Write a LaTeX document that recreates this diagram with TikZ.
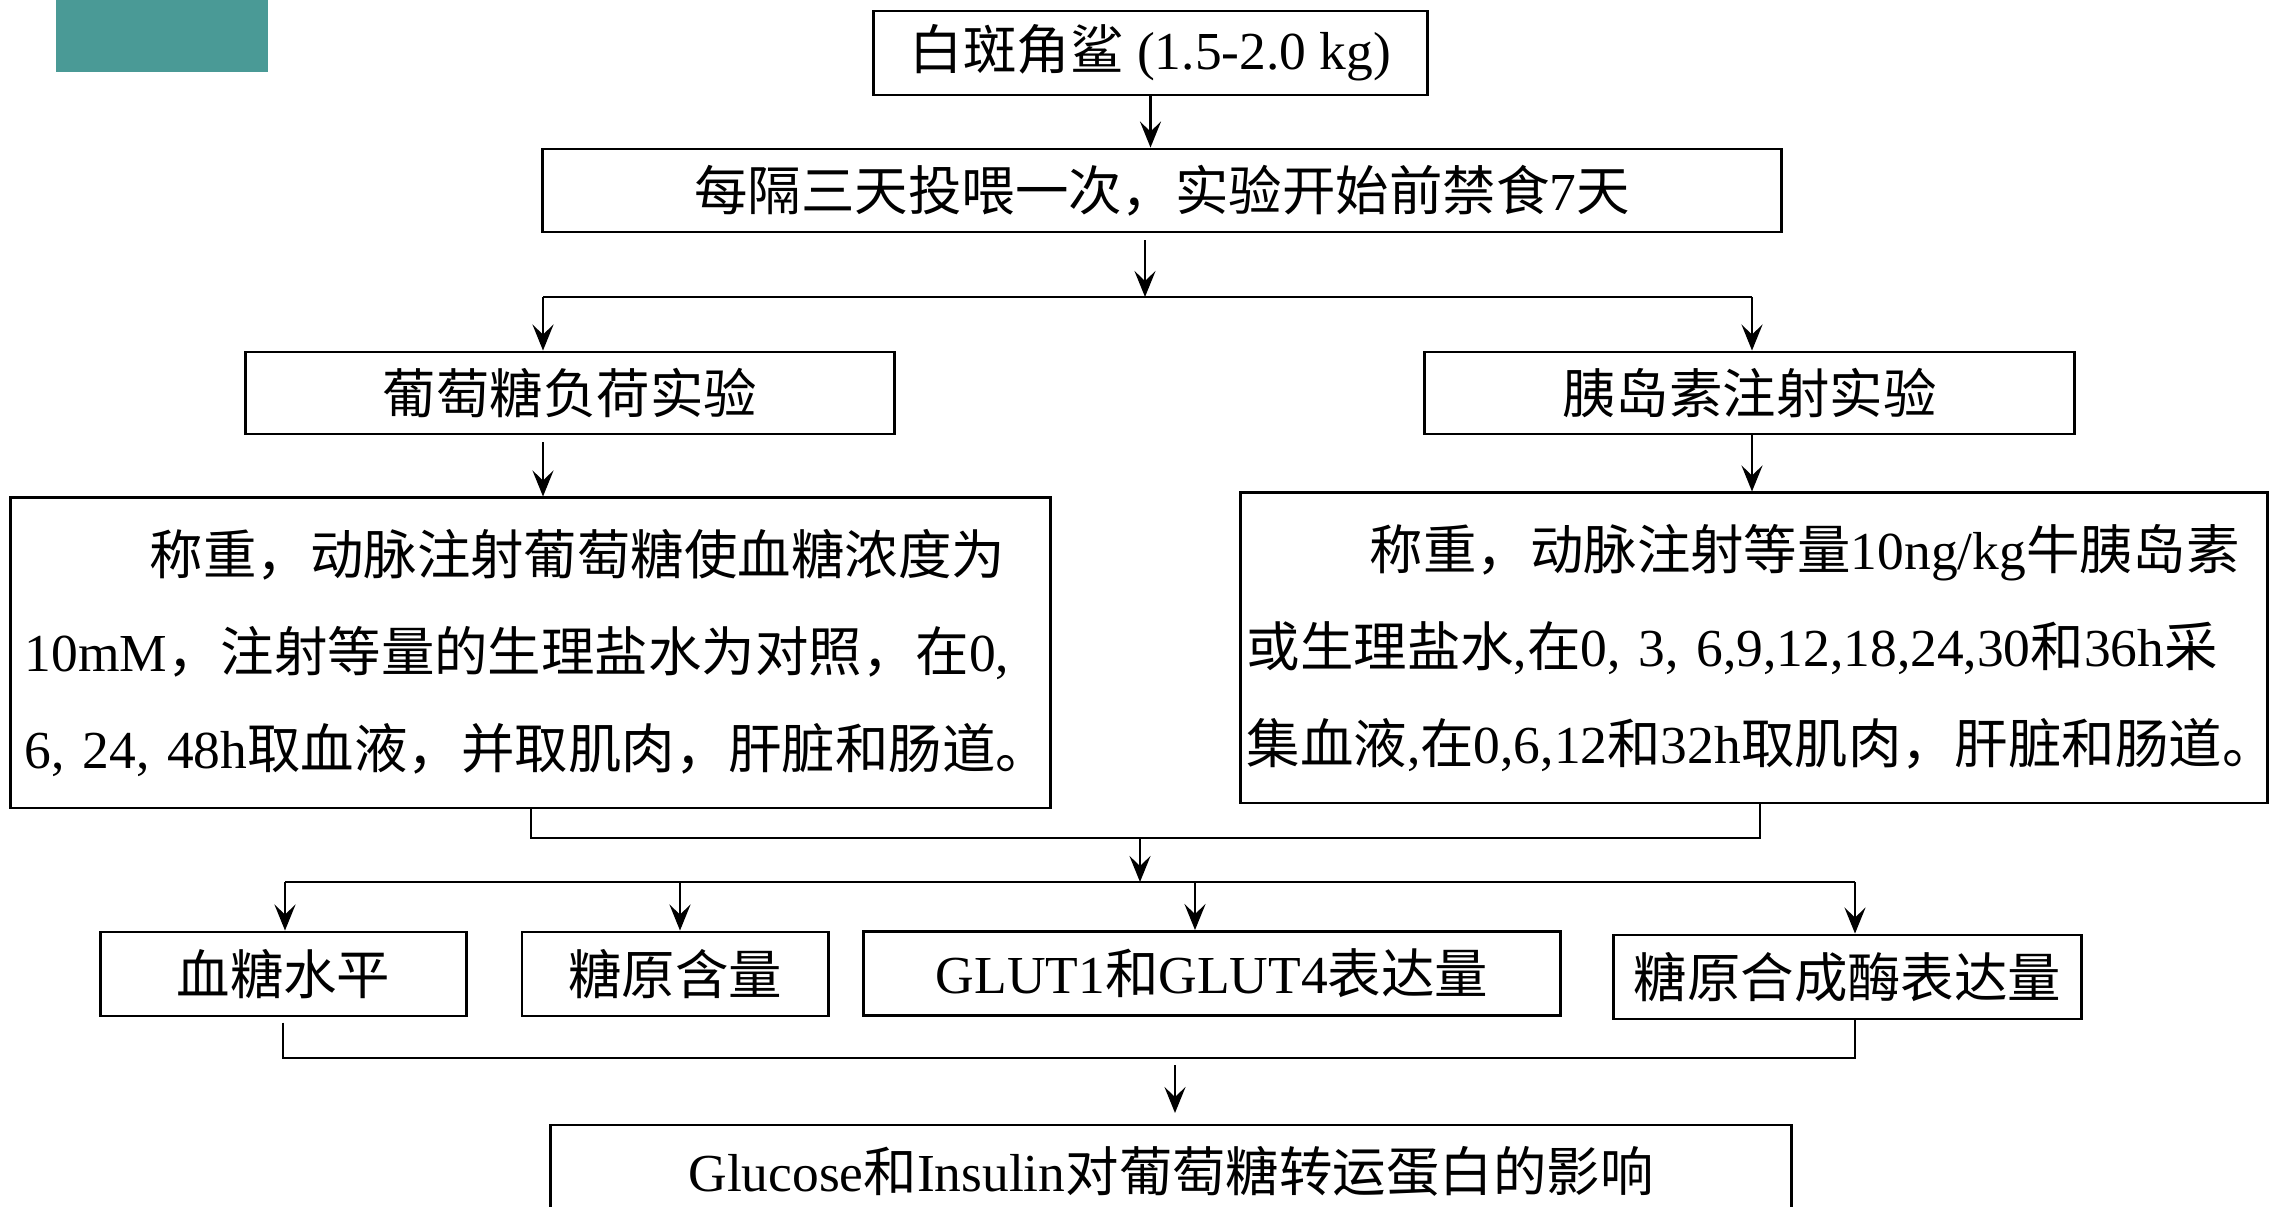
\documentclass[tikz,border=0pt]{standalone}
\usepackage{fontspec}
\setmainfont{Liberation Serif}
\newfontfamily\cjkfont{Noto Sans CJK SC}
\newcommand{\zh}[1]{{\cjkfont #1}}
\usetikzlibrary{arrows.meta}
\definecolor{tealbox}{RGB}{74,154,150}

\begin{document}
\begin{tikzpicture}[x=0.01cm, y=-0.01cm,
    box/.style={draw, line width=0.8pt, inner sep=0pt, font=\fontsize{15.2}{27.5}\selectfont},
    link/.style={line width=0.8pt},
    arr/.style={link, -{Stealth[length=2.6mm, width=2.1mm, inset=1mm]}}]
  \clip (0,0) rectangle (2269,1207);
  \fill[white] (0,0) rectangle (2269,1207);
  \fill[tealbox] (56,0) rectangle (268,72);

  % top of the flow
  \node[box, minimum width=5.53cm, minimum height=0.84cm] (shark) at (1150.5,53) {\zh{白斑角鲨} (1.5-2.0 kg)};
  \node[box, minimum width=12.38cm, minimum height=0.83cm] (feed) at (1162,190.5) {\zh{每隔三天投喂一次，实验开始前禁食}7\zh{天}};
  \node[box, minimum width=6.48cm, minimum height=0.82cm] (gtt) at (570,393) {\zh{葡萄糖负荷实验}};
  \node[box, minimum width=6.49cm, minimum height=0.82cm] (itt) at (1749.5,393) {\zh{胰岛素注射实验}};

  % the two protocols
  \node[box, minimum width=10.39cm, minimum height=3.10cm, text width=10.11cm, align=left] (gttsteps) at (530.5,653) {%
    \mbox{\hspace*{1.25cm}\zh{称重，动脉注射葡萄糖使血糖浓度为}}\\
    \mbox{10mM\zh{，注射等量的生理盐水为对照，在}0,}\\
    \mbox{6, 24, 48h\zh{取血液，并取肌肉，肝脏和肠道。}}};
  \node[box, minimum width=10.26cm, minimum height=3.10cm, text width=10.14cm, align=left] (ittsteps) at (1754,648) {%
    \mbox{\hspace*{1.23cm}\zh{称重，动脉注射等量}10ng/kg\zh{牛胰岛素}}\\
    \mbox{\zh{或生理盐水},\zh{在}0, 3, 6,9,12,18,24,30\zh{和}36h\zh{采}}\\
    \mbox{\zh{集血液},\zh{在}0,6,12\zh{和}32h\zh{取肌肉，肝脏和肠道。}}};

  % measurements
  \def \Results{
    bg/283.5/974/3.65/{\zh{血糖水平}},
    gly/675/974/3.06/{\zh{糖原含量}},
    glut/1212/973.5/6.96/{GLUT1\zh{和}GLUT4\zh{表达量}},
    gs/1847.5/977/4.67/{\zh{糖原合成酶表达量}}}
  \foreach \id / \x / \y / \w / \t in \Results{
    \node[box, minimum width=\w cm, minimum height=0.84cm] (\id) at (\x, \y) {\t};
  }
  \node[box, minimum width=12.41cm, minimum height=0.92cm] (effect) at (1171,1171) {Glucose\zh{和}Insulin\zh{对葡萄糖转运蛋白的影响}};

  % connectors
  \coordinate (fork) at (1145,297);
  \coordinate (forkL) at (543,297);
  \coordinate (forkR) at (1752,297);
  \draw[arr] (shark.south) -- (shark.south |- feed.north);
  \draw[arr, shorten <=2pt] (feed.south -| fork) -- (fork);
  \draw[link] (forkL) -- (forkR);
  \draw[arr] (forkL) -- (forkL |- gtt.north);
  \draw[arr] (forkR) -- (forkR |- itt.north);
  \draw[arr, shorten <=2pt] (gtt.south -| forkL) -- (gttsteps.north -| forkL);
  \draw[arr] (itt.south -| forkR) -- (ittsteps.north -| forkR);

  \coordinate (joinL) at (531,838);
  \coordinate (joinR) at (1760,838);
  \coordinate (merge) at (1140,838);
  \coordinate (spread) at (1140,882);
  \draw[link] (gttsteps.south -| joinL) -- (joinL) -- (joinR) -- (ittsteps.south -| joinR);
  \draw[arr] (merge) -- (spread);
  \draw[link] (285,882) -- (1855,882);
  \foreach \id / \x in {bg/285, gly/680, glut/1195, gs/1855}{
    \coordinate (d\id) at (\x, 882);
    \path[draw, arr] (d\id) -- (d\id |- \id.north);
  }

  \coordinate (endL) at (283,1058);
  \coordinate (endR) at (1855,1058);
  \coordinate (result) at (1175,1058);
  \draw[link, shorten <=1.5pt] (bg.south -| endL) -- (endL) -- (endR) -- (gs.south -| endR);
  \draw[arr, shorten <=2pt, shorten >=3pt] (result) -- (result |- effect.north);
\end{tikzpicture}
\end{document}
